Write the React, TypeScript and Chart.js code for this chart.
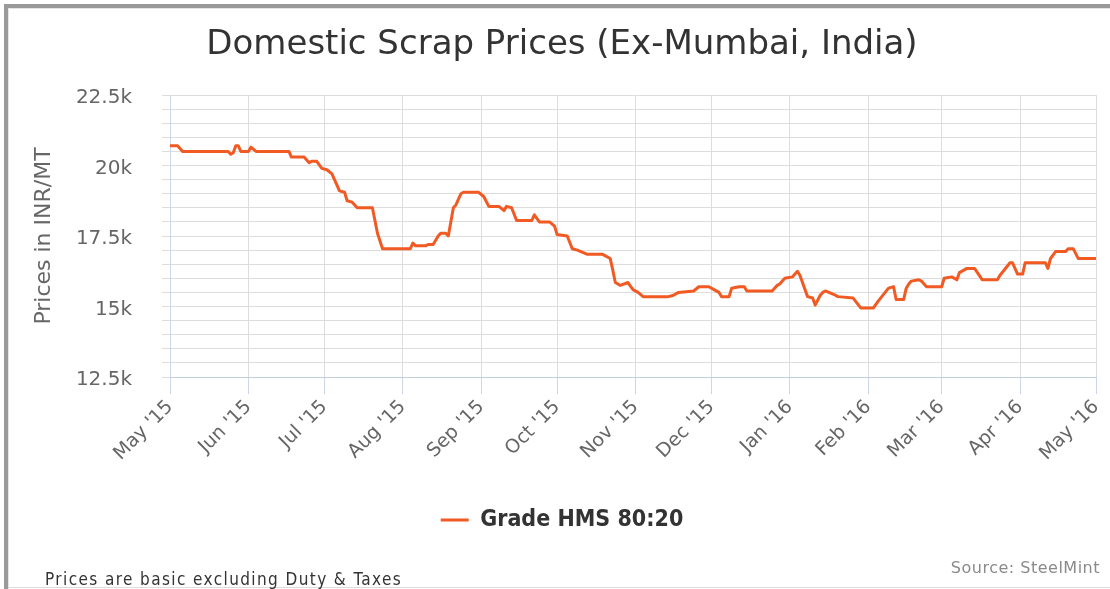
import React, { useEffect, useRef } from "react";
import { Chart, registerables } from "chart.js";

Chart.register(...registerables);

const chartTitle = "Domestic Scrap Prices (Ex-Mumbai, India)";
const seriesName = "Grade HMS 80:20";
const yAxisTitle = "Prices in INR/MT";
const footNote = "Prices are basic excluding Duty & Taxes";
const sourceNote = "Source: SteelMint";

// x axis: days since 1 May 2015, ticks at month starts
const monthStartDays = [0, 31, 61, 92, 123, 153, 184, 214, 245, 276, 305, 336, 366];
const monthLabels = [
  "May '15", "Jun '15", "Jul '15", "Aug '15", "Sep '15", "Oct '15", "Nov '15",
  "Dec '15", "Jan '16", "Feb '16", "Mar '16", "Apr '16", "May '16",
];

const yMin = 12500;
const yMax = 22500;
const yStep = 500;
const yLabelEvery = 2500;

// series: day offset from 1 May 2015 and price (INR/MT)
const days = [
  0, 3, 5, 23, 24, 25, 26, 27, 28, 31, 32, 34, 47, 48, 53, 55, 56, 58, 60, 62,
  64, 67, 69, 70, 72, 74, 80, 82, 84, 95, 96, 97, 101, 102, 104, 106, 107, 109, 110, 112,
  113, 115, 116, 122, 124, 126, 130, 132, 133, 135, 137, 143, 144, 146, 150, 152, 153, 157, 159, 161,
  165, 171, 174, 175, 176, 178, 181, 183, 185, 187, 197, 199, 201, 207, 209, 213, 215, 217, 218, 221,
  222, 225, 227, 228, 238, 240, 241, 243, 246, 248, 249, 252, 254, 255, 257, 258, 259, 263, 264, 270,
  273, 278, 280, 284, 286, 287, 290, 291, 292, 293, 296, 297, 299, 305, 306, 309, 311, 312, 315, 318,
  321, 327, 328, 332, 333, 335, 337, 338, 346, 347, 348, 350, 354, 355, 357, 359, 366,
];
const prices = [
  20700, 20700, 20500, 20500, 20400, 20450, 20700, 20700, 20500, 20500, 20650, 20500, 20500, 20300, 20300, 20100, 20150, 20150, 19900, 19850,
  19700, 19100, 19050, 18750, 18700, 18500, 18500, 17600, 17050, 17050, 17250, 17150, 17150, 17200, 17200, 17500, 17600, 17600, 17500, 18500,
  18600, 19000, 19050, 19050, 18900, 18550, 18550, 18400, 18550, 18500, 18050, 18050, 18250, 18000, 18000, 17850, 17550, 17500, 17050, 17000,
  16850, 16850, 16700, 16300, 15850, 15750, 15850, 15600, 15500, 15350, 15350, 15400, 15500, 15550, 15700, 15700, 15600, 15500, 15350, 15350,
  15650, 15700, 15700, 15550, 15550, 15750, 15800, 16000, 16050, 16250, 16100, 15350, 15300, 15050, 15400, 15500, 15550, 15400, 15350, 15300,
  14950, 14950, 15200, 15650, 15700, 15250, 15250, 15650, 15800, 15900, 15950, 15900, 15700, 15700, 16000, 16050, 15950, 16200, 16350, 16350,
  15950, 15950, 16100, 16550, 16550, 16150, 16150, 16550, 16550, 16350, 16700, 16950, 16950, 17050, 17050, 16700, 16700,
];

const LINE_COLOR = "#f15a22";

export default function App() {
  const canvasRef = useRef<HTMLCanvasElement | null>(null);

  useEffect(() => {
    if (!canvasRef.current) return;
    const chart = new Chart(canvasRef.current, {
      type: "line",
      data: {
        datasets: [
          {
            label: seriesName,
            data: days.map((d, i) => ({ x: d, y: prices[i] })),
            borderColor: LINE_COLOR,
            backgroundColor: LINE_COLOR,
            borderWidth: 3,
            pointRadius: 0,
            tension: 0,
            borderJoinStyle: "round",
            borderCapStyle: "round",
          },
        ],
      },
      options: {
        animation: false,
        responsive: false,
        maintainAspectRatio: false,
        layout: { padding: { left: 28, right: 14, top: 0, bottom: 47.5 } },
        plugins: {
          title: {
            display: true,
            text: chartTitle,
            color: "#333333",
            font: { family: "'DejaVu Sans'", size: 34, weight: "normal" },
            padding: { top: 24.5, bottom: 29.7 },
          },
          legend: {
            display: true,
            position: "bottom",
            labels: {
              color: "#333333",
              font: { family: "'DejaVu Sans Condensed', 'DejaVu Sans'", size: 23, weight: "bold" },
              usePointStyle: true,
              pointStyle: "line",
              pointStyleWidth: 28,
              padding: 10,
            },
          },
          tooltip: { enabled: false },
        },
        scales: {
          x: {
            type: "linear",
            min: 0,
            max: 366,
            afterBuildTicks: (scale: any) => {
              scale.ticks = monthStartDays.map((v) => ({ value: v }));
            },
            afterFit: (scale: any) => {
              scale.height = 121.5;
              scale.paddingRight = 0;
            },
            ticks: {
              autoSkip: false,
              minRotation: 45,
              maxRotation: 45,
              color: "#666666",
              font: { family: "'DejaVu Sans'", size: 19 },
              padding: 2,
              callback: (_v: any, index: number) => monthLabels[index],
            },
            grid: {
              color: "#dddddd",
              tickColor: "#ccd6eb",
              tickLength: 17,
              lineWidth: 1,
            },
            border: { color: "#c0d0e0", width: 1 },
          },
          y: {
            min: yMin,
            max: yMax,
            afterBuildTicks: (scale: any) => {
              const t: any[] = [];
              for (let v = yMin; v <= yMax; v += yStep) t.push({ value: v });
              scale.ticks = t;
            },
            afterFit: (scale: any) => {
              scale.width = 142;
            },
            ticks: {
              autoSkip: false,
              color: "#666666",
              font: { family: "'DejaVu Sans'", size: 20 },
              padding: 30,
              labelOffset: 3,
              callback: (v: any) =>
                Number(v) % yLabelEvery === 0 ? `${Number(v) / 1000}k` : "",
            },
            grid: {
              color: "#dddddd",
              tickColor: "#dddddd",
              tickLength: 8,
              lineWidth: 1,
            },
            border: { color: "#ccd6eb", width: 1 },
            title: {
              display: true,
              text: yAxisTitle,
              color: "#666666",
              font: { family: "'DejaVu Sans'", size: 22 },
              padding: { top: 3, bottom: 0 },
            },
          },
        },
      },
    });
    return () => chart.destroy();
  }, []);

  return (
    <div
      style={{
        position: "fixed",
        left: 0,
        top: 0,
        width: 1110,
        height: 589,
        background: "#ffffff",
        overflow: "hidden",
      }}
    >
      <canvas
        ref={canvasRef}
        width={1110}
        height={589}
        style={{ position: "absolute", left: 0, top: 0, width: 1110, height: 589 }}
      />
      <div style={{ position: "absolute", left: 4, top: 4, width: 1106, height: 4, background: "#9a9a9a" }} />
      <div style={{ position: "absolute", left: 4, top: 4, width: 4, height: 585, background: "#9a9a9a" }} />
      <div style={{ position: "absolute", left: 8, top: 8, width: 1102, height: 1, background: "#e4e4e4" }} />
      <div style={{ position: "absolute", left: 8, top: 8, width: 1, height: 581, background: "#e4e4e4" }} />
      <div style={{ position: "absolute", left: 8, top: 587, width: 1102, height: 1, background: "#dcdcdc" }} />
      <div
        style={{
          position: "absolute",
          left: 45,
          top: 571,
          fontFamily: "'DejaVu Sans Condensed', 'DejaVu Sans'",
          fontSize: 17,
          lineHeight: "17px",
          letterSpacing: "1.4px",
          color: "#333333",
          whiteSpace: "nowrap",
        }}
      >
        {footNote}
      </div>
      <div
        style={{
          position: "absolute",
          right: 10,
          top: 559.5,
          fontFamily: "'DejaVu Sans'",
          fontSize: 16,
          lineHeight: "16px",
          letterSpacing: "0.5px",
          color: "#8a8a8a",
          whiteSpace: "nowrap",
        }}
      >
        {sourceNote}
      </div>
    </div>
  );
}
